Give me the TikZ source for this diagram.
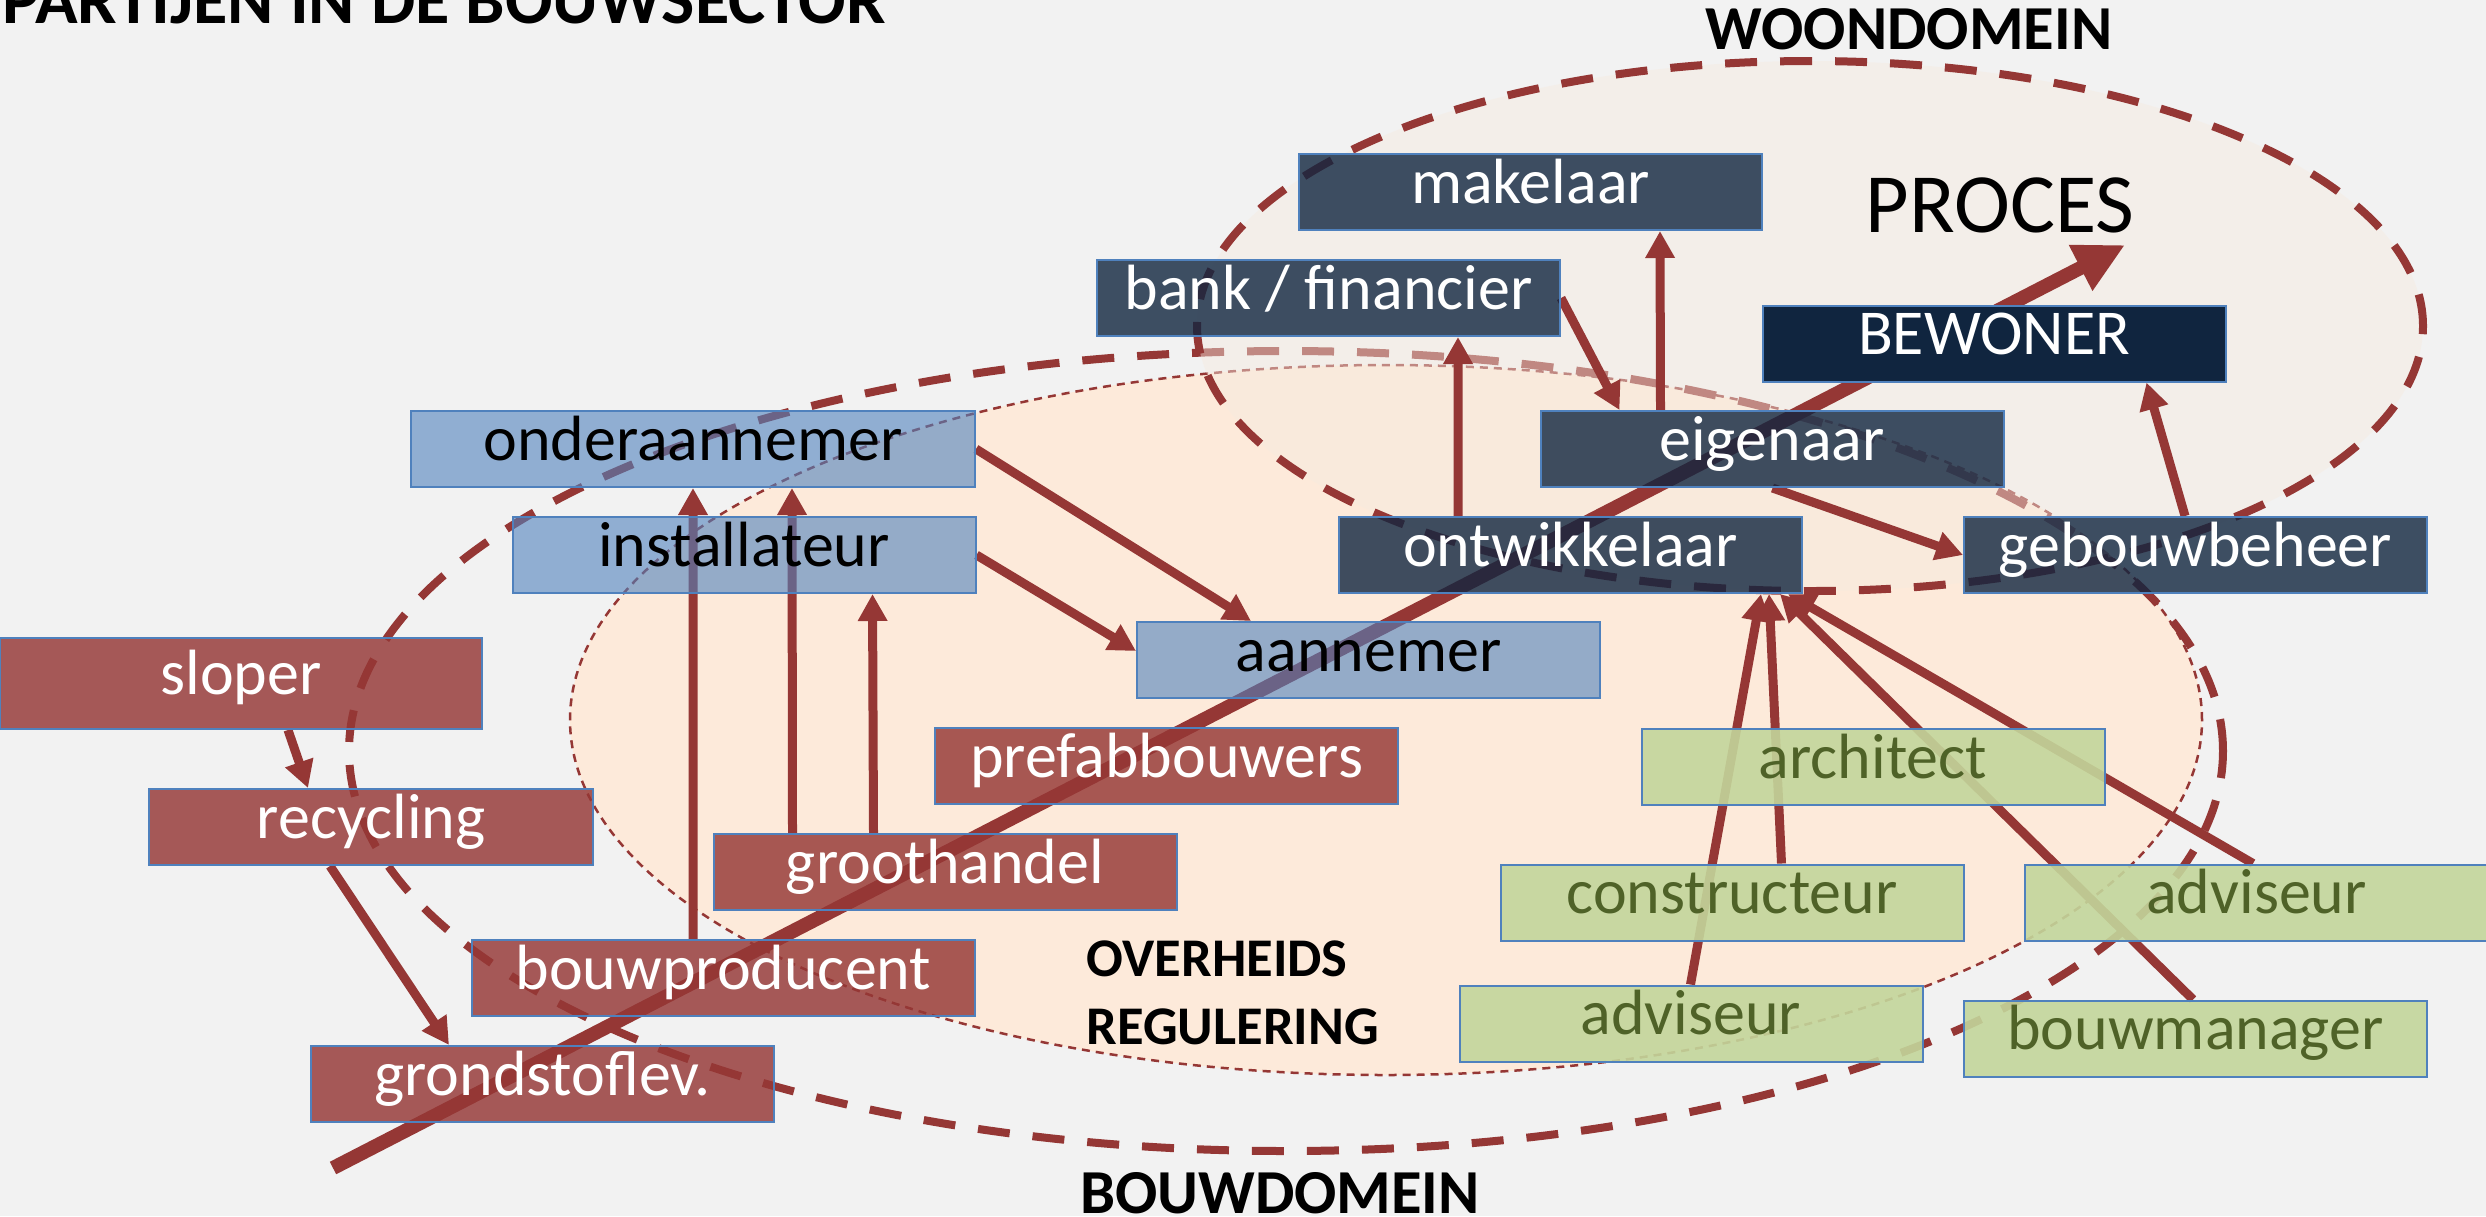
\documentclass[tikz,border=0pt]{standalone}
\usepackage{fontspec}
\setmainfont{Carlito}
\usetikzlibrary{arrows.meta}
\definecolor{bggray}{HTML}{F2F2F2}
\definecolor{wine}{HTML}{953735}
\definecolor{frame}{HTML}{4F81BD}
\definecolor{navy}{HTML}{10253F}
\definecolor{leaf}{HTML}{C3D69B}
\definecolor{olive}{HTML}{4F6228}
\definecolor{peach}{HTML}{FDEADA}
\definecolor{sand}{HTML}{F6EBE0}
\pgfdeclarelayer{back}
\pgfdeclarelayer{mid}
\pgfsetlayers{back,mid,main}
\tikzset{
  box/.style={draw=frame, line width=0.2mm, minimum width=46.3mm, minimum height=7.6mm,
    inner sep=0pt, text height=4.4mm, text depth=2.2mm, text opacity=1,
    font=\fontsize{18.2}{22}\selectfont},
  redbox/.style={box, fill=wine, fill opacity=0.82, text=white},
  bluebox/.style={box, fill=frame, fill opacity=0.6, text=black},
  darkbox/.style={box, fill=navy, fill opacity=0.8, text=white},
  greenbox/.style={box, fill=leaf, fill opacity=0.9, text=olive},
  conn/.style={draw=wine, line width=0.9mm, -{Triangle[length=2.7mm, width=2.8mm]}},
  procarrow/.style={draw=wine, line width=1.4mm, -{Triangle[length=5mm, width=4.8mm]}},
  domainline/.style={draw=wine, line width=0.8mm, dash pattern=on 3.2mm off 2.3mm},
  regul/.style={draw=wine, line width=0.25mm, dash pattern=on 0.8mm off 0.6mm, fill=peach},
  lbl/.style={inner sep=0pt, font=\bfseries\fontsize{17.8}{20}\selectfont}
}
\begin{document}
\begin{tikzpicture}[x=0.1mm, y=-0.1mm]
        %% Frame
        \useasboundingbox (0,0) rectangle (2486,1216);
        \clip (0,0) rectangle (2486,1216);
        \begin{pgfonlayer}{back}
        \fill[bggray] (0,0) rectangle (2486,1216);
        %% Domains
        \draw[regul] (1386,720) ellipse [x radius=81.6mm, y radius=35.5mm];
        \draw[domainline] (1286,751) ellipse [x radius=93.7mm, y radius=40mm];
        \fill[sand, fill opacity=0.45] (1810,326) ellipse [x radius=61.3mm, y radius=26.5mm];
        \draw[domainline] (1810,326) ellipse [x radius=61.3mm, y radius=26.5mm];
        \end{pgfonlayer}
        %% Labels
        \node[lbl, font=\bfseries\fontsize{20}{24}\selectfont, anchor=base west] (title) at (2,23) {PARTIJEN IN DE BOUWSECTOR};
        \node[lbl] (woondomein) at (1909,29) {WOONDOMEIN};
        \node[lbl] (bouwdomein) at (1280,1193) {BOUWDOMEIN};
        \node[lbl, font=\bfseries\fontsize{15.5}{18}\selectfont, anchor=base west] (overheids) at (1086,976) {OVERHEIDS};
        \node[lbl, font=\bfseries\fontsize{15.5}{18}\selectfont, anchor=base west] (regulering) at (1086,1044) {REGULERING};
        \node[inner sep=0pt, font=\fontsize{24}{28}\selectfont] (proces) at (2000,205) {PROCES};
        %% Parties
        \node[darkbox] (makelaar) at (1530.5,192) {makelaar};
        \node[darkbox] (bank) at (1328.5,298) {bank / financier};
        \node[darkbox, fill opacity=1] (bewoner) at (1994,343.5) {BEWONER};
        \node[darkbox] (eigenaar) at (1772,449) {eigenaar};
        \node[darkbox] (ontw) at (1570.5,555) {ontwikkelaar};
        \node[darkbox] (gebouw) at (2195.5,555) {gebouwbeheer};
        \node[bluebox, minimum width=56.4mm] (onder) at (693,449) {onderaannemer};
        \node[bluebox] (install) at (744,555) {installateur};
        \node[bluebox] (aannemer) at (1368.5,660) {aannemer};
        \node[redbox, minimum width=48.2mm, minimum height=9.1mm] (sloper) at (241,683.5) {sloper};
        \node[redbox, minimum width=44.4mm] (recycling) at (371,827) {recycling};
        \node[redbox] (prefab) at (1166.5,766) {prefabbouwers};
        \node[redbox] (groot) at (945,872) {groothandel};
        \node[redbox, minimum width=50.3mm] (bouwprod) at (723.5,978) {bouwproducent};
        \node[redbox] (grondstof) at (542.5,1084) {grondstoflev.};
        \node[greenbox] (architect) at (1873,767) {architect};
        \node[greenbox] (constr) at (1732,902.5) {constructeur};
        \node[greenbox] (advR) at (2256.5,902.5) {adviseur};
        \node[greenbox] (advL) at (1691,1023.5) {adviseur};
        \node[greenbox] (bouwman) at (2195.5,1038.5) {bouwmanager};
        \begin{pgfonlayer}{mid}
        %% Process
        \coordinate (procstart) at (333,1168);
        \coordinate (proctip) at (2125,245);
        \draw[procarrow] (procstart) -- (proctip);
        %% Links
        \draw[conn] ([xshift=28.9mm]sloper.south west) -- ([xshift=16mm]recycling.north west);
        \draw[conn] ([xshift=18.2mm]recycling.south west) -- ([xshift=13.9mm]grondstof.north west);
        \draw[conn] ([xshift=22.2mm]bouwprod.north west) -- ([xshift=28.3mm]onder.south west);
        \draw[conn] ([xshift=8mm]groot.north west) -- ([xshift=38.2mm]onder.south west);
        \draw[conn] ([xshift=16.1mm]groot.north west) -- ([xshift=36.1mm]install.south west);
        \draw[conn] (onder.east) -- ([xshift=11.5mm]aannemer.north west);
        \draw[conn] (install.east) -- ([yshift=0.9mm]aannemer.west);
        \draw[conn] ([xshift=12mm]ontw.north west) -- ([xshift=36.2mm]bank.south west);
        \draw[conn] (bank.east) -- ([xshift=8mm]eigenaar.north west);
        \draw[conn] ([xshift=12.1mm]eigenaar.north west) -- ([xshift=36.2mm]makelaar.south west);
        \draw[conn] ([xshift=23.3mm]eigenaar.south west) -- (gebouw.west);
        \draw[conn] ([xshift=22.2mm]gebouw.north west) -- ([xshift=38.5mm]bewoner.south west);
        \draw[conn] ([xshift=23.2mm]advL.north west) -- ([xshift=42.3mm]ontw.south west);
        \draw[conn] ([xshift=28.2mm]constr.north west) -- ([xshift=43.1mm]ontw.south west);
        \draw[conn] ([xshift=23mm]bouwman.north west) -- ([xshift=44.2mm]ontw.south west);
        \draw[conn] ([xshift=22.9mm]advR.north west) -- ([xshift=45mm]ontw.south west);
        \end{pgfonlayer}
    \end{tikzpicture}
\end{document}
